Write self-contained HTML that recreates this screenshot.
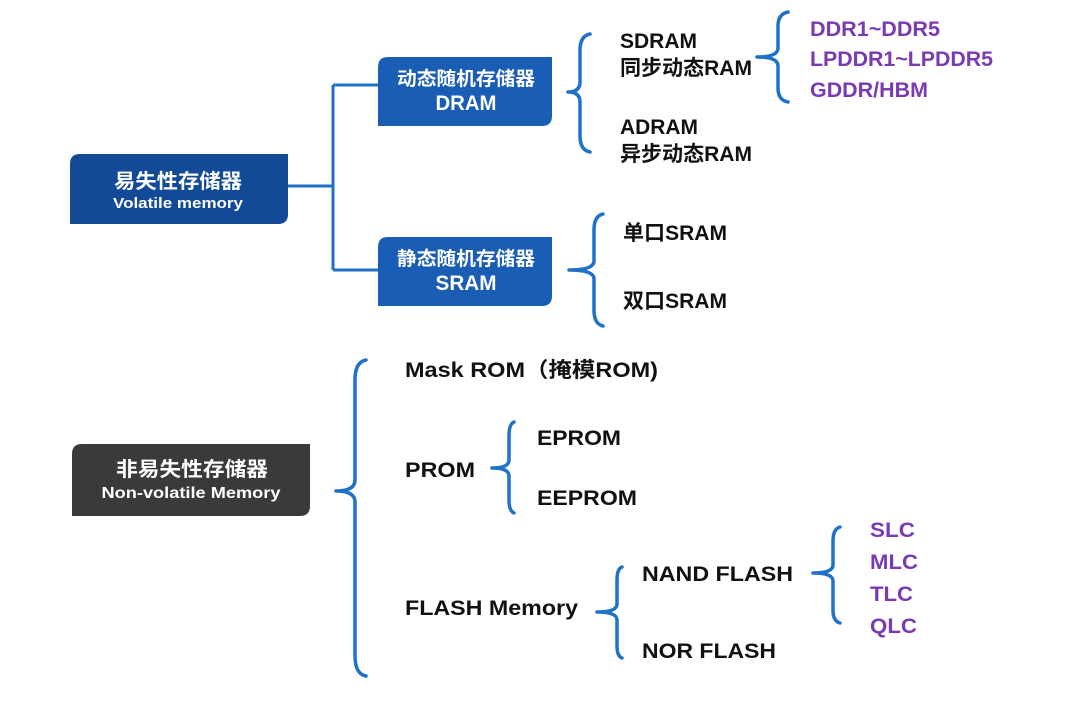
<!DOCTYPE html>
<html><head><meta charset="utf-8"><style>
html,body{margin:0;padding:0;background:#fff;}
svg{display:block;}
text{font-family:"Liberation Sans","Noto Sans CJK SC",sans-serif;font-weight:bold;}
</style></head><body>
<svg width="1080" height="719" viewBox="0 0 1080 719" xmlns="http://www.w3.org/2000/svg">
<defs>
<style>.b{fill:none;stroke:#1f72c8;stroke-width:3.5;stroke-linecap:round;stroke-linejoin:round}.k{fill:#111;font-size:21px}.p{fill:#7a3bb2;font-size:21px}.w{fill:#fff;text-anchor:middle}</style>
</defs>
<path d="M80,154 H288 V214 Q288,224 278,224 H70 V164 Q70,154 80,154 Z" fill="#124a98"/>
<text class="w" x="178" y="188" font-size="20" textLength="128" lengthAdjust="spacingAndGlyphs">易失性存储器</text>
<text class="w" x="178" y="208" font-size="15" textLength="130" lengthAdjust="spacingAndGlyphs">Volatile memory</text>
<path d="M288,186 H333 M333,85 V270 M333,85 H378 M333,270 H378" fill="none" stroke="#1f72c8" stroke-width="3"/>
<path d="M388,57 H552 V116 Q552,126 542,126 H378 V67 Q378,57 388,57 Z" fill="#1a5db5"/>
<text class="w" x="466" y="85" font-size="19" textLength="138" lengthAdjust="spacingAndGlyphs">动态随机存储器</text>
<text class="w" x="466" y="110" font-size="21" textLength="61" lengthAdjust="spacingAndGlyphs">DRAM</text>
<path d="M388,237 H552 V296 Q552,306 542,306 H378 V247 Q378,237 388,237 Z" fill="#1a5db5"/>
<text class="w" x="466" y="265" font-size="19" textLength="138" lengthAdjust="spacingAndGlyphs">静态随机存储器</text>
<text class="w" x="466" y="290" font-size="21" textLength="61" lengthAdjust="spacingAndGlyphs">SRAM</text>
<path d="M82,444 H310 V506 Q310,516 300,516 H72 V454 Q72,444 82,444 Z" fill="#3a3a3a"/>
<text class="w" x="192" y="476" font-size="20" textLength="152" lengthAdjust="spacingAndGlyphs">非易失性存储器</text>
<text class="w" x="191" y="498" font-size="16" font-weight="normal" textLength="179" lengthAdjust="spacingAndGlyphs">Non-volatile Memory</text>

<path class="b" d="M590,34 Q580,36 580,50 L580,82 Q580,92 568,92 Q580,92 580,102 L580,136 Q580,150 590,152"/>
<path class="b" d="M788,12 Q778,14 778,26 L778,48 Q778,57 757,57 Q778,57 778,66 L778,88 Q778,100 788,102"/>
<path class="b" d="M603,214 Q594,216 594,230 L594,261 Q594,270 569,270 Q594,270 594,279 L594,310 Q594,324 603,326"/>
<path class="b" d="M366,360 Q355,362 355,380 L355,480 Q355,491 336,491 Q355,491 355,502 L355,656 Q355,674 366,676"/>
<path class="b" d="M514,422 Q509,424 509,436 L509,460 Q509,468 492,468 Q509,468 509,476 L509,500 Q509,511 514,513"/>
<path class="b" d="M622,567 Q617,569 617,580 L617,604 Q617,612 597,612 Q617,612 617,620 L617,646 Q617,656 622,658"/>
<path class="b" d="M840,527 Q833,529 833,541 L833,565 Q833,573 813,573 Q833,573 833,581 L833,610 Q833,621 840,623"/>

<text class="k" x="620" y="48" textLength="77" lengthAdjust="spacingAndGlyphs">SDRAM</text>
<text class="k" x="620" y="75" textLength="132" lengthAdjust="spacingAndGlyphs">同步动态RAM</text>
<text class="k" x="620" y="134" textLength="78" lengthAdjust="spacingAndGlyphs">ADRAM</text>
<text class="k" x="620" y="161" textLength="132" lengthAdjust="spacingAndGlyphs">异步动态RAM</text>
<text class="p" x="810" y="36" textLength="130" lengthAdjust="spacingAndGlyphs">DDR1~DDR5</text>
<text class="p" x="810" y="66" textLength="183" lengthAdjust="spacingAndGlyphs">LPDDR1~LPDDR5</text>
<text class="p" x="810" y="97" textLength="118" lengthAdjust="spacingAndGlyphs">GDDR/HBM</text>
<text class="k" x="623" y="240" textLength="104" lengthAdjust="spacingAndGlyphs">单口SRAM</text>
<text class="k" x="623" y="308" textLength="104" lengthAdjust="spacingAndGlyphs">双口SRAM</text>
<text class="k" x="405" y="377" textLength="253" lengthAdjust="spacingAndGlyphs">Mask ROM（掩模ROM)</text>
<text class="k" x="405" y="477" textLength="70" lengthAdjust="spacingAndGlyphs">PROM</text>
<text class="k" x="537" y="445" textLength="84" lengthAdjust="spacingAndGlyphs">EPROM</text>
<text class="k" x="537" y="505" textLength="100" lengthAdjust="spacingAndGlyphs">EEPROM</text>
<text class="k" x="405" y="615" textLength="173" lengthAdjust="spacingAndGlyphs">FLASH Memory</text>
<text class="k" x="642" y="581" textLength="151" lengthAdjust="spacingAndGlyphs">NAND FLASH</text>
<text class="k" x="642" y="658" textLength="134" lengthAdjust="spacingAndGlyphs">NOR FLASH</text>
<text class="p" x="870" y="537" textLength="45" lengthAdjust="spacingAndGlyphs">SLC</text>
<text class="p" x="870" y="569" textLength="48" lengthAdjust="spacingAndGlyphs">MLC</text>
<text class="p" x="870" y="601" textLength="43" lengthAdjust="spacingAndGlyphs">TLC</text>
<text class="p" x="870" y="633" textLength="47" lengthAdjust="spacingAndGlyphs">QLC</text>
</svg>
</body></html>
